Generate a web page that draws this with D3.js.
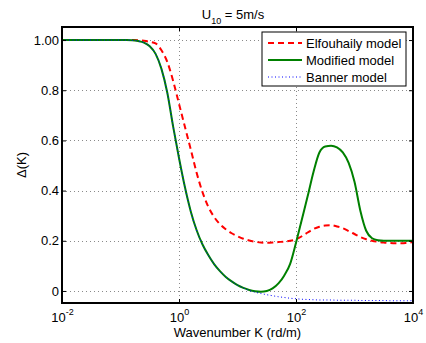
<!DOCTYPE html>
<html><head><meta charset="utf-8">
<script src="https://cdn.jsdelivr.net/npm/d3@7"></script>
<style>body{margin:0;background:#fff}svg{display:block;font-family:"Liberation Sans",Arial,Helvetica,sans-serif}</style>
</head><body><svg id="c" width="426" height="343"></svg>
<script>
// log10 of wavenumber K (rd/m)
const logK = [-2,-1.5,-1,-0.9,-0.8,-0.7,-0.6,-0.5,-0.4,-0.3,-0.2,-0.1,0,0.1,0.2,0.3,0.4,0.5,0.6,0.7,0.8,0.9,1.0,1.1,1.2,1.3,1.4,1.5,1.6,1.7,1.8,1.9,2.0,2.1,2.2,2.3,2.4,2.5,2.6,2.7,2.8,2.9,3.0,3.1,3.2,3.3,3.4,3.5,3.6,3.7,3.8,3.9,4.0];
const elfouhaily = [1,1,1,1,1,0.999,0.997,0.993,0.987,0.959,0.913,0.837,0.746,0.655,0.565,0.472,0.395,0.336,0.295,0.266,0.246,0.23,0.218,0.208,0.201,0.196,0.193,0.192,0.193,0.195,0.197,0.2,0.206,0.218,0.233,0.247,0.256,0.261,0.262,0.257,0.25,0.239,0.227,0.215,0.206,0.2,0.196,0.193,0.191,0.19,0.19,0.192,0.195];
const modified   = [1,1,1,1,0.999,0.996,0.99,0.975,0.945,0.885,0.79,0.655,0.53,0.415,0.318,0.243,0.186,0.143,0.107,0.079,0.056,0.038,0.023,0.012,0.004,-0.001,-0.003,0,0.01,0.03,0.062,0.108,0.192,0.285,0.378,0.475,0.552,0.576,0.579,0.572,0.552,0.51,0.435,0.32,0.24,0.21,0.202,0.2,0.2,0.2,0.2,0.2,0.2];
const banner     = [1,1,1,1,0.999,0.996,0.99,0.975,0.945,0.885,0.79,0.655,0.53,0.415,0.318,0.243,0.186,0.143,0.107,0.079,0.056,0.038,0.023,0.012,0.002,-0.005,-0.01,-0.015,-0.019,-0.023,-0.026,-0.029,-0.031,-0.033,-0.034,-0.035,-0.036,-0.036,-0.036,-0.037,-0.037,-0.037,-0.037,-0.038,-0.038,-0.038,-0.038,-0.038,-0.039,-0.039,-0.039,-0.039,-0.039];
const seriesNames = ["Elfouhaily model","Modified model","Banner model"];
const xTicks = [1e-2,1,1e2,1e4];
const xTickExp = ["-2","0","2","4"];
const xGrid = [1,1e2];
const yTicks = [0,0.2,0.4,0.6,0.8,1.0];
const yTickLabels = ["0","0.2","0.4","0.6","0.8","1.00"];

const svg = d3.select("#c");
const L=62, R=413, T=27, B=303;
const x = d3.scaleLog().domain([1e-2,1e4]).range([L,R]);
const y = d3.scaleLinear().domain([-0.048,1.052]).range([B,T]);
const K = logK.map(e => Math.pow(10,e));

// grid
const grid = svg.append("g").attr("stroke","#8a8a8a").attr("stroke-width",1).attr("stroke-dasharray","1,3");
grid.selectAll("line.gy").data(yTicks).join("line").attr("class","gy")
  .attr("x1",L).attr("x2",R).attr("y1",d=>Math.round(y(d))+0.5).attr("y2",d=>Math.round(y(d))+0.5);
grid.selectAll("line.gx").data(xGrid).join("line").attr("class","gx")
  .attr("y1",T).attr("y2",B).attr("x1",d=>Math.round(x(d))+0.5).attr("x2",d=>Math.round(x(d))+0.5);

// series
const line = vals => d3.line().x((d,i)=>x(K[i])).y(d=>y(d)).curve(d3.curveMonotoneX)(vals);
svg.append("path").attr("d",line(elfouhaily)).attr("fill","none").attr("stroke","#ff0000").attr("stroke-width",2).attr("stroke-dasharray","6,4");
svg.append("path").attr("d",line(modified)).attr("fill","none").attr("stroke","#008000").attr("stroke-width",2);
svg.append("path").attr("d",line(banner)).attr("fill","none").attr("stroke","#0000ff").attr("stroke-width",1).attr("stroke-dasharray","1,2.5");

// axes
const ax = g => { g.selectAll(".domain").remove(); g.selectAll(".tick line").attr("stroke","#000"); g.attr("font-family",null); };
const xb = svg.append("g").attr("transform",`translate(0,${B})`)
  .call(d3.axisBottom(x).tickValues(xTicks).tickSize(-4).tickSizeOuter(0).tickFormat(()=>"")).call(ax);
xb.selectAll(".tick text").remove();
xb.selectAll(".tick").append("text").attr("fill","#000").attr("font-size",13).attr("y",19).attr("text-anchor","middle")
  .each(function(d,i){ const t=d3.select(this); t.append("tspan").text("10"); t.append("tspan").attr("font-size",9).attr("dy",-7).text(xTickExp[i]); });
svg.append("g").attr("transform",`translate(0,${T})`)
  .call(d3.axisTop(x).tickValues(xTicks).tickSize(-4).tickFormat(()=>"")).call(ax);
svg.append("g").attr("transform",`translate(${L},0)`)
  .call(d3.axisLeft(y).tickValues(yTicks).tickSize(-4).tickPadding(3).tickFormat((d,i)=>yTickLabels[i])).call(ax)
  .selectAll("text").attr("font-size",13).attr("fill","#000");
svg.append("g").attr("transform",`translate(${R},0)`)
  .call(d3.axisRight(y).tickValues(yTicks).tickSize(-4).tickFormat(()=>"")).call(ax);

svg.append("rect").attr("x",L).attr("y",T).attr("width",R-L).attr("height",B-T)
  .attr("fill","none").attr("stroke","#000").attr("stroke-width",2);

// title
const title = svg.append("text").attr("x",233).attr("y",19).attr("text-anchor","middle").attr("font-size",13);
title.append("tspan").text("U");
title.append("tspan").attr("font-size",9).attr("dy",5).text("10");
title.append("tspan").attr("dy",-5).text(" = 5m/s");

// axis labels
svg.append("text").attr("x",(L+R)/2).attr("y",337).attr("text-anchor","middle").attr("font-size",13).text("Wavenumber K (rd/m)");
svg.append("text").attr("transform",`translate(26,${(T+B)/2}) rotate(-90)`).attr("text-anchor","middle").attr("font-size",13).text("Δ(K)");

// legend
const lg = svg.append("g");
lg.append("rect").attr("x",262).attr("y",32).attr("width",144).attr("height",54).attr("fill","#fff").attr("stroke","#000").attr("stroke-width",1);
const styles = [
  {c:"#ff0000",w:2,d:"6,4"},
  {c:"#008000",w:2,d:null},
  {c:"#0000ff",w:1,d:"1,2.5"}
];
seriesNames.forEach((n,i)=>{
  const yy = 43 + i*17;
  lg.append("line").attr("x1",268).attr("x2",302).attr("y1",yy).attr("y2",yy)
    .attr("stroke",styles[i].c).attr("stroke-width",styles[i].w).attr("stroke-dasharray",styles[i].d);
  lg.append("text").attr("x",306).attr("y",yy+4.5).attr("font-size",13).text(n);
});
</script></body></html>
